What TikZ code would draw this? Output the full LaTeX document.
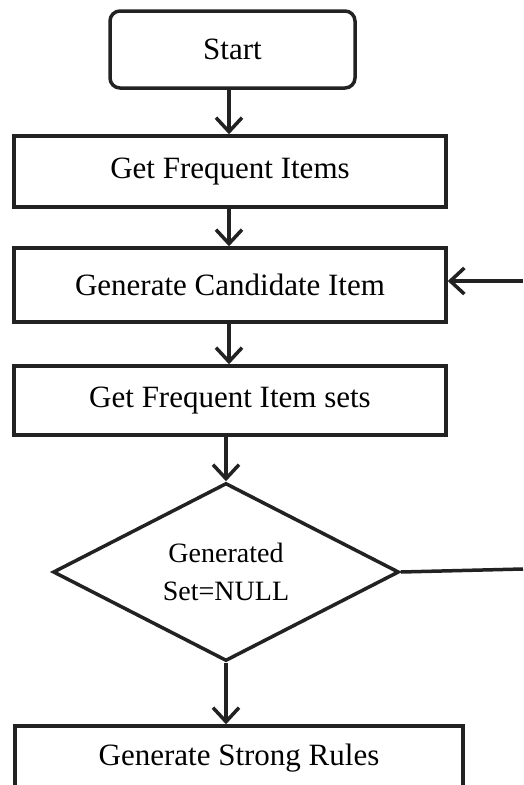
\documentclass[tikz,border=0pt]{standalone}
\usepackage{fontspec}
\setmainfont{Liberation Serif}
\usetikzlibrary{shapes.geometric,arrows.meta}
\definecolor{ink}{HTML}{222222}
\tikzset{
  box/.style={draw=ink, line width=3.5pt, rectangle, inner sep=0pt,
    font=\fontsize{31}{36}\selectfont, text=black},
  startbox/.style={box, rounded corners=10pt},
  decbox/.style={draw=ink, line width=3.5pt, diamond, inner sep=0pt, aspect=1.94,
    align=center, font=\fontsize{28}{38}\selectfont, text=black},
  arr/.style={draw=ink, line width=3.5pt, -{Straight Barb[length=14pt,width=26pt]}},
  ln/.style={draw=ink, line width=3.5pt}
}
\begin{document}
\begin{tikzpicture}[x=1pt,y=-1pt]
\useasboundingbox (0,0) rectangle (523,785);
\fill[white] (0,0) rectangle (523,785);
\node[startbox, minimum width=245pt, minimum height=77pt] (start) at (232.5,49.5) {Start};
\node[box, minimum width=432pt, minimum height=71pt] (freq) at (230,171.5) {Get Frequent Items};
\node[box, minimum width=432pt, minimum height=74pt] (cand) at (230,285) {Generate Candidate Item};
\node[box, minimum width=432pt, minimum height=69pt] (sets) at (230,400.5) {Get Frequent Item sets};
\node[decbox, minimum width=346pt, minimum height=178pt] (dec) at (226,572) {Generated\\Set=NULL};
\node[box, minimum width=448pt, minimum height=64pt] (rules) at (239,758) {Generate Strong Rules};
\coordinate (fbin) at (523,281);
\coordinate (fbout) at (523,569);
\draw[arr] (start.south -| 229,0) -- (freq.north -| 229,0);
\draw[arr] (freq.south -| 229,0) -- (cand.north -| 229,0);
\draw[arr] (cand.south -| 229,0) -- (sets.north -| 229,0);
\draw[arr] (sets.south -| dec.north) -- (dec.north);
\draw[arr] (dec.south) -- (dec.south |- rules.north);
\draw[arr] (fbin) -- (fbin -| cand.east);
\draw[ln] (dec.east) -- (fbout);
\end{tikzpicture}
\end{document}
